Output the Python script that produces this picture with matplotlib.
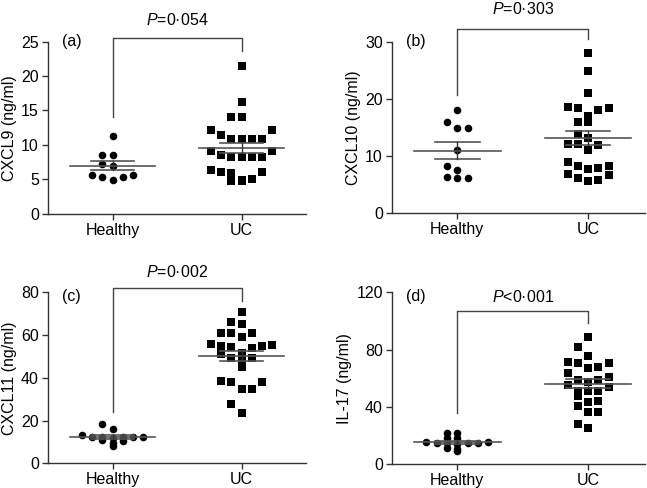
import matplotlib.pyplot as plt
import numpy as np

plt.rcParams['font.family'] = ['Liberation Sans', 'DejaVu Sans']
plt.rcParams['mathtext.fontset'] = 'custom'
plt.rcParams['mathtext.it'] = 'Liberation Sans:italic'
plt.rcParams['mathtext.rm'] = 'Liberation Sans'

groups = ['Healthy', 'UC']

# values (ng/ml)
cxcl9_healthy = [11.3, 8.6, 8.6, 7.2, 7.0, 5.6, 5.3, 4.9, 5.3, 5.6]
cxcl9_uc = [21.4, 16.3, 14.0, 14.0, 12.1, 12.1, 11.5, 10.9, 10.9, 10.9, 10.9,
            9.1, 9.1, 8.2, 8.2, 8.2, 8.2, 8.5, 6.0, 5.9, 6.3, 6.0,
            4.9, 4.8, 4.8, 5.0]

cxcl10_healthy = [18.0, 15.0, 15.0, 16.0, 11.1, 8.3, 7.6, 6.4, 6.1, 6.1]
cxcl10_uc = [28.0, 24.9, 21.1, 18.6, 18.4, 18.1, 18.4, 17.0, 15.9, 15.9,
             13.9, 13.1, 11.9, 12.1, 12.1, 11.0, 8.3, 7.9, 7.7, 8.3, 8.9,
             6.7, 6.9, 6.1, 5.7, 5.8]

cxcl11_healthy = [18.4, 16.2, 13.3, 12.4, 12.3, 12.2, 12.2, 12.1, 12.0,
                  10.7, 10.5, 9.7, 7.9]
cxcl11_uc = [71.0, 65.2, 66.0, 60.8, 60.8, 60.8, 58.9, 54.9, 54.6, 55.8, 54.1,
             54.9, 55.2, 51.5, 49.3, 51.0, 48.8, 49.3, 45.2, 37.9, 37.9, 38.7,
             34.6, 34.6, 27.8, 23.4]

il17_healthy = [22.0, 22.0, 18.5, 18.5, 15.8, 15.5, 15.0, 15.0, 15.0, 14.8,
                14.3, 11.5, 10.5, 9.0]
il17_uc = [88.6, 81.6, 75.6, 70.9, 71.6, 70.9, 67.7, 67.0, 63.9, 60.7, 58.8,
           58.8, 57.6, 55.3, 53.7, 51.4, 51.4, 51.4, 47.9, 43.3, 44.2, 40.7,
           36.7, 36.7, 28.1, 25.1]

fig = plt.figure(figsize=(6.47, 4.88), dpi=100)
W, H = 647, 488


def rows_layout(values, step, h):
    # Prism-like scatter: group values into rows from the top, spread each row
    vals = np.asarray(values)
    order = list(np.argsort(-vals, kind='stable'))
    offs = np.zeros(len(vals))
    while order:
        top = vals[order[0]]
        row = [i for i in order if vals[i] > top - h]
        order = [i for i in order if i not in row]
        n = len(row)
        cols = sorted(np.arange(n) - n // 2, key=lambda c: (-abs(c), c))
        for i, c in zip(row, cols):
            offs[i] = c * step
    return offs


def panel(box, xmax, ymax, yticks, ylabel, letter, healthy, uc, ptext,
          bar_y, left_y, right_y, text_y, letter_y, row_px):
    l, r, t, b = box
    ax = fig.add_axes([l / W, (H - b) / H, (r - l) / W, (b - t) / H])
    ax.set_xlim(-0.5, xmax)
    ax.set_ylim(0, ymax)
    px_x = (r - l) / (xmax + 0.5)
    px_y = (b - t) / ymax
    step = 10.3 / px_x

    for i, (vals, mk) in enumerate([(healthy, 'o'), (uc, 's')]):
        vals = np.array(vals)
        xs = i + rows_layout(vals, step, row_px[i] / px_y)
        ax.scatter(xs, vals, marker=mk, s=30, color='black', lw=0, zorder=3)
        m = vals.mean()
        sem = vals.std(ddof=1) / np.sqrt(len(vals))
        ax.plot([i - 0.33, i + 0.33], [m, m], color='#555555', lw=1.2, zorder=4)
        for yy in (m - sem, m + sem):
            ax.plot([i - 0.17, i + 0.17], [yy, yy], color='#555555', lw=1.2, zorder=4)
        ax.plot([i, i], [m - sem, m + sem], color='#333333', lw=1.0, zorder=4)

    ax.plot([0, 0, 1, 1], [left_y, bar_y, bar_y, right_y], color='#444444',
            lw=1.0, clip_on=False)
    ax.text(0.5, text_y, ptext, ha='center', va='center', fontsize=11.5,
            clip_on=False)
    ax.text(0.055, letter_y, letter, transform=ax.transAxes, ha='left',
            va='center', fontsize=11.5)

    ax.spines['right'].set_color('none')
    ax.spines['top'].set_color('none')
    for s in ('left', 'bottom'):
        ax.spines[s].set_color('#333333')
        ax.spines[s].set_linewidth(1.0)
    ax.set_xticks([0, 1])
    ax.set_xticklabels(groups)
    ax.set_yticks(yticks)
    ax.tick_params(direction='out', length=4.5, width=1.0, color='#333333',
                   labelsize=11.5, pad=2)
    ax.set_ylabel(ylabel, fontsize=11.5, labelpad=3)
    return ax


panel((48, 306, 41.7, 213.7), 1.5, 25, [0, 5, 10, 15, 20, 25],
      'CXCL9 (ng/ml)', '(a)', cxcl9_healthy, cxcl9_uc, r'$P$=0·054',
      25.5, 14.0, 23.7, 28.1, 1.0, (8, 10))
panel((392, 645, 41.7, 213.3), 1.435, 30, [0, 10, 20, 30],
      'CXCL10 (ng/ml)', '(b)', cxcl10_healthy, cxcl10_uc, r'$P$=0·303',
      32.3, 20.7, 30.4, 35.7, 1.0, (10, 10))
panel((48, 306, 292.3, 463.3), 1.5, 80, [0, 20, 40, 60, 80],
      'CXCL11 (ng/ml)', '(c)', cxcl11_healthy, cxcl11_uc, r'$P$=0·002',
      82.2, 24.2, 76.1, 89.4, 0.975, (5, 10))
panel((392, 645, 292.3, 464.3), 1.435, 120, [0, 40, 80, 120],
      'IL-17 (ng/ml)', '(d)', il17_healthy, il17_uc, r'$P$<0·001',
      107, 35.6, 98.8, 117, 0.975, (3, 10))

plt.savefig('out.png', dpi=100)
